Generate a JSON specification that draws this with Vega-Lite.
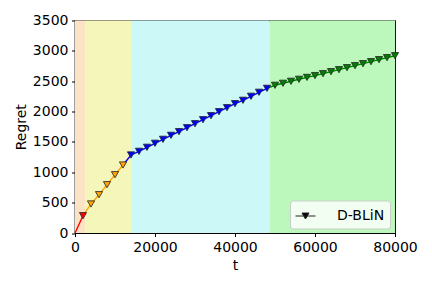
{
  "$schema": "https://vega.github.io/schema/vega-lite/v6.json",
  "width": 320,
  "height": 212.5,
  "autosize": {"type": "none"},
  "padding": {"left": 75, "top": 20.5, "right": 37, "bottom": 55},
  "background": "white",
  "config": {
    "view": {"stroke": "black", "strokeWidth": 1.2},
    "font": "DejaVu Sans",
    "axis": {
      "grid": false,
      "domainColor": "black",
      "domainWidth": 1.2,
      "tickColor": "black",
      "tickSize": 3.5,
      "tickWidth": 1,
      "labelFont": "DejaVu Sans",
      "labelFontSize": 14,
      "labelColor": "black",
      "labelPadding": 3.5,
      "labelOverlap": false,
      "labelBound": false,
      "labelFlush": false,
      "titleFont": "DejaVu Sans",
      "titleFontSize": 14,
      "titleFontWeight": "normal",
      "titleColor": "black"
    },
    "legend": {
      "orient": "bottom-right",
      "offset": 5,
      "padding": 5,
      "fillColor": "rgba(255,255,255,0.8)",
      "strokeColor": "#cccccc",
      "cornerRadius": 3,
      "labelFont": "DejaVu Sans",
      "labelFontSize": 14,
      "labelColor": "black",
      "labelOffset": 21,
      "symbolType": "M-1,0H1M-0.35,-0.3H0.35L0,0.3Z",
      "symbolSize": 400,
      "symbolStrokeWidth": 1,
      "symbolFillColor": "black",
      "symbolStrokeColor": "black"
    }
  },
  "datasets": {
    "regions": [
      {"x0": 0, "x1": 2500, "phase": "p1"},
      {"x0": 2500, "x1": 14000, "phase": "p2"},
      {"x0": 14000, "x1": 48600, "phase": "p3"},
      {"x0": 48600, "x1": 80000, "phase": "p4"}
    ],
    "lines": [
      {"seg": "p1", "t": 0, "regret": 0},
      {"seg": "p1", "t": 2000, "regret": 285},
      {"seg": "p2", "t": 2000, "regret": 285},
      {"seg": "p2", "t": 4000, "regret": 478},
      {"seg": "p2", "t": 6000, "regret": 631},
      {"seg": "p2", "t": 8000, "regret": 796},
      {"seg": "p2", "t": 10000, "regret": 960},
      {"seg": "p2", "t": 12000, "regret": 1120},
      {"seg": "p3", "t": 12000, "regret": 1120},
      {"seg": "p3", "t": 14000, "regret": 1285},
      {"seg": "p3", "t": 16000, "regret": 1345},
      {"seg": "p3", "t": 18000, "regret": 1412},
      {"seg": "p3", "t": 20000, "regret": 1478},
      {"seg": "p3", "t": 22000, "regret": 1543},
      {"seg": "p3", "t": 24000, "regret": 1609},
      {"seg": "p3", "t": 26000, "regret": 1669},
      {"seg": "p3", "t": 28000, "regret": 1734},
      {"seg": "p3", "t": 30000, "regret": 1800},
      {"seg": "p3", "t": 32000, "regret": 1866},
      {"seg": "p3", "t": 34000, "regret": 1932},
      {"seg": "p3", "t": 36000, "regret": 1998},
      {"seg": "p3", "t": 38000, "regret": 2064},
      {"seg": "p3", "t": 40000, "regret": 2130},
      {"seg": "p3", "t": 42000, "regret": 2186},
      {"seg": "p3", "t": 44000, "regret": 2252},
      {"seg": "p3", "t": 46000, "regret": 2318},
      {"seg": "p3", "t": 48000, "regret": 2383},
      {"seg": "p4", "t": 48000, "regret": 2383},
      {"seg": "p4", "t": 50000, "regret": 2433},
      {"seg": "p4", "t": 52000, "regret": 2466},
      {"seg": "p4", "t": 54000, "regret": 2499},
      {"seg": "p4", "t": 56000, "regret": 2532},
      {"seg": "p4", "t": 58000, "regret": 2563},
      {"seg": "p4", "t": 60000, "regret": 2593},
      {"seg": "p4", "t": 62000, "regret": 2624},
      {"seg": "p4", "t": 64000, "regret": 2657},
      {"seg": "p4", "t": 66000, "regret": 2690},
      {"seg": "p4", "t": 68000, "regret": 2723},
      {"seg": "p4", "t": 70000, "regret": 2756},
      {"seg": "p4", "t": 72000, "regret": 2789},
      {"seg": "p4", "t": 74000, "regret": 2822},
      {"seg": "p4", "t": 76000, "regret": 2855},
      {"seg": "p4", "t": 78000, "regret": 2888},
      {"seg": "p4", "t": 80000, "regret": 2920}
    ],
    "markers": [
      {"phase": "p1", "t": 2000, "regret": 285},
      {"phase": "p2", "t": 4000, "regret": 478},
      {"phase": "p2", "t": 6000, "regret": 631},
      {"phase": "p2", "t": 8000, "regret": 796},
      {"phase": "p2", "t": 10000, "regret": 960},
      {"phase": "p2", "t": 12000, "regret": 1120},
      {"phase": "p3", "t": 14000, "regret": 1285},
      {"phase": "p3", "t": 16000, "regret": 1345},
      {"phase": "p3", "t": 18000, "regret": 1412},
      {"phase": "p3", "t": 20000, "regret": 1478},
      {"phase": "p3", "t": 22000, "regret": 1543},
      {"phase": "p3", "t": 24000, "regret": 1609},
      {"phase": "p3", "t": 26000, "regret": 1669},
      {"phase": "p3", "t": 28000, "regret": 1734},
      {"phase": "p3", "t": 30000, "regret": 1800},
      {"phase": "p3", "t": 32000, "regret": 1866},
      {"phase": "p3", "t": 34000, "regret": 1932},
      {"phase": "p3", "t": 36000, "regret": 1998},
      {"phase": "p3", "t": 38000, "regret": 2064},
      {"phase": "p3", "t": 40000, "regret": 2130},
      {"phase": "p3", "t": 42000, "regret": 2186},
      {"phase": "p3", "t": 44000, "regret": 2252},
      {"phase": "p3", "t": 46000, "regret": 2318},
      {"phase": "p3", "t": 48000, "regret": 2383},
      {"phase": "p4", "t": 50000, "regret": 2433},
      {"phase": "p4", "t": 52000, "regret": 2466},
      {"phase": "p4", "t": 54000, "regret": 2499},
      {"phase": "p4", "t": 56000, "regret": 2532},
      {"phase": "p4", "t": 58000, "regret": 2563},
      {"phase": "p4", "t": 60000, "regret": 2593},
      {"phase": "p4", "t": 62000, "regret": 2624},
      {"phase": "p4", "t": 64000, "regret": 2657},
      {"phase": "p4", "t": 66000, "regret": 2690},
      {"phase": "p4", "t": 68000, "regret": 2723},
      {"phase": "p4", "t": 70000, "regret": 2756},
      {"phase": "p4", "t": 72000, "regret": 2789},
      {"phase": "p4", "t": 74000, "regret": 2822},
      {"phase": "p4", "t": 76000, "regret": 2855},
      {"phase": "p4", "t": 78000, "regret": 2888},
      {"phase": "p4", "t": 80000, "regret": 2920}
    ]
  },
  "layer": [
    {
      "data": {"name": "regions"},
      "mark": {"type": "rect", "strokeWidth": 0},
      "encoding": {
        "x": {"field": "x0", "type": "quantitative", "scale": {"domain": [0, 80000], "nice": false}, "axis": {"title": "t", "values": [0, 20000, 40000, 60000, 80000], "format": "d", "titlePadding": 4.5, "labelOverlap": false}},
        "x2": {"field": "x1"},
        "color": {"field": "phase", "type": "nominal", "scale": {"domain": ["p1", "p2", "p3", "p4"], "range": ["#fce3c6", "#f5f6b9", "#ccf8f8", "#bcf8bc"]}, "legend": null}
      }
    },
    {
      "data": {"name": "lines"},
      "mark": {"type": "line", "strokeWidth": 1.4},
      "encoding": {
        "x": {"field": "t", "type": "quantitative"},
        "y": {"field": "regret", "type": "quantitative", "scale": {"domain": [0, 3500], "nice": false}, "axis": {"title": "Regret", "values": [0, 500, 1000, 1500, 2000, 2500, 3000, 3500], "tickCount": 8, "format": "d", "titlePadding": 3.5, "labelOverlap": false}},
        "color": {"field": "seg", "type": "nominal", "scale": {"domain": ["p1", "p2", "p3", "p4"], "range": ["#ff0000", "#ffa500", "#0000ff", "#008000"]}, "legend": null}
      }
    },
    {
      "data": {"name": "markers"},
      "mark": {"type": "point", "shape": "triangle-down", "filled": true, "size": 52, "strokeWidth": 0.8, "opacity": 1},
      "encoding": {
        "x": {"field": "t", "type": "quantitative"},
        "y": {"field": "regret", "type": "quantitative", "scale": {"domain": [0, 3500], "nice": false}, "axis": {"title": "Regret", "values": [0, 500, 1000, 1500, 2000, 2500, 3000, 3500], "tickCount": 8, "format": "d", "titlePadding": 3.5, "labelOverlap": false}},
        "fill": {"field": "phase", "type": "nominal", "scale": {"domain": ["p1", "p2", "p3", "p4"], "range": ["#ff0000", "#ffa500", "#0000ff", "#008000"]}, "legend": null},
        "stroke": {"datum": "D-BLiN", "type": "nominal", "scale": {"range": ["#222222"]}, "legend": {"title": null, "symbolType": "M-1,0H1M-0.35,-0.3H0.35L0,0.3Z", "encode": {"symbols": {"update": {"fill": {"value": "black"}, "stroke": {"value": "black"}, "strokeWidth": {"value": 1}, "opacity": {"value": 1}}}}}}
      }
    }
  ],
  "resolve": {"scale": {"color": "independent", "fill": "independent", "stroke": "independent"}}
}
